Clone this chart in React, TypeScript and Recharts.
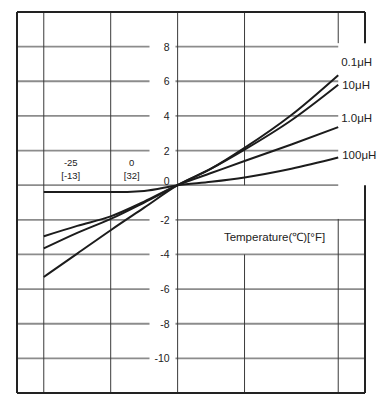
import React from 'react';
import { LineChart, Line, XAxis, YAxis, ReferenceLine, ReferenceArea, ReferenceDot } from 'recharts';

// temperature in °C
const temps = [-25, -12.5, 0, 12.5, 25, 37.5, 50, 67.5, 85];
// inductance change (%) per inductance value
const l01 = [-5.3, -3.95, -2.6, -1.3, 0, 0.95, 2.15, 4.05, 6.35];
const l10 = [-3.65, -2.75, -1.95, -1.0, 0, 0.95, 2.05, 3.75, 5.8];
const l1 = [-2.95, -2.35, -1.8, -0.95, 0, 0.7, 1.4, 2.35, 3.35];
const l100 = [-0.4, -0.4, -0.4, -0.33, 0, 0.2, 0.45, 0.95, 1.6];
const seriesNames = ['0.1μH', '10μH', '1.0μH', '100μH'];

const xTicks = [-25, 0, 25, 50, 85];
const xLabelTemps = [-25, 0];
const xLabelC = ['-25', '0'];
const xLabelF = ['[-13]', '[32]'];
const yTicks = [-10, -8, -6, -4, -2, 0, 2, 4, 6, 8];

const data = temps.map((t, i) => ({ t, a: l01[i], b: l10[i], c: l1[i], d: l100[i] }));

const X_MIN = -35, X_MAX = 95, Y_MIN = -12, Y_MAX = 10;
const FONT = '"Liberation Sans", Arial, sans-serif';
const INK = '#1c1c1c';
const TXT = '#222';

type Seg = [{ x: number; y: number }, { x: number; y: number }];

// horizontal grid: broken where the y labels sit, shorter on the upper right
const hSegs: Seg[] = [];
yTicks.forEach((v) => {
    const end = v >= 0 ? 85 : X_MAX;
    if (v === 0) {
        hSegs.push([{ x: X_MIN, y: v }, { x: end, y: v }]);
    } else {
        hSegs.push([{ x: X_MIN, y: v }, { x: 14.5, y: v }]);
        hSegs.push([{ x: 24.2, y: v }, { x: end, y: v }]);
    }
});

// vertical grid: gaps around the title box and the curve labels
const vSegs: Seg[] = [];
xTicks.forEach((t) => {
    if (t === 50) {
        vSegs.push([{ x: t, y: Y_MAX }, { x: t, y: 0 }]);
        vSegs.push([{ x: t, y: -4 }, { x: t, y: Y_MIN }]);
    } else if (t === 85) {
        vSegs.push([{ x: t, y: Y_MAX }, { x: t, y: 8.2 }]);
        vSegs.push([{ x: t, y: -1.95 }, { x: t, y: Y_MIN }]);
    } else {
        vSegs.push([{ x: t, y: Y_MAX }, { x: t, y: Y_MIN }]);
    }
});

const frameSegs: Seg[] = [
    [{ x: X_MIN, y: Y_MAX }, { x: X_MAX, y: Y_MAX }],
    [{ x: X_MIN, y: Y_MIN }, { x: X_MAX, y: Y_MIN }],
    [{ x: X_MIN, y: Y_MAX }, { x: X_MIN, y: Y_MIN }],
    [{ x: X_MAX, y: Y_MAX }, { x: X_MAX, y: 8.2 }],
    [{ x: X_MAX, y: 0 }, { x: X_MAX, y: Y_MIN }],
];

// label at the right end of each curve
const endLabel = (name: string, dx: number, dy: number) => (props: any) => {
    if (props.index !== temps.length - 1) return null;
    return (
        <text key={name} x={props.x + dx} y={props.y + dy} dominantBaseline="central"
            fontSize={11.5} fontFamily={FONT} fill={TXT}>{name}</text>
    );
};

const labelOffsets = [[3, -13], [4, 0], [3, -9], [4, -2]];
const xLabelDx = [27, 21];
const keys = ['a', 'b', 'c', 'd'];

export default function App() {
    return (
        <div style={{ position: 'absolute', left: 0, top: 0, width: 379, height: 396, background: '#fff' }}>
            <LineChart width={379} height={396} data={data}
                margin={{ top: 12, right: 14, bottom: 3, left: 17 }}>
                <XAxis type="number" dataKey="t" domain={[X_MIN, X_MAX]} hide allowDataOverflow />
                <YAxis type="number" domain={[Y_MIN, Y_MAX]} hide allowDataOverflow />
                {hSegs.map((s, i) => (
                    <ReferenceLine key={'h' + i} segment={s} stroke="#8c8c8c" strokeWidth={1.8} ifOverflow="visible" />
                ))}
                {vSegs.map((s, i) => (
                    <ReferenceLine key={'v' + i} segment={s} stroke="#3a3a3a" strokeWidth={1} ifOverflow="visible" />
                ))}
                {frameSegs.map((s, i) => (
                    <ReferenceLine key={'f' + i} segment={s} stroke="#222" strokeWidth={2} ifOverflow="visible" />
                ))}
                {yTicks.map((v) => (
                    <ReferenceDot key={'y' + v} x={25} y={v} r={0} ifOverflow="visible"
                        shape={(p: any) => (
                            <text x={p.cx - 8} y={v === 0 ? p.cy - 4 : p.cy} textAnchor="end"
                                dominantBaseline="central" fontSize={10.5} fontFamily={FONT} fill={TXT}>{v}</text>
                        )} />
                ))}
                {xLabelTemps.map((t, i) => (
                    <ReferenceDot key={'x' + t} x={t} y={0} r={0} ifOverflow="visible"
                        shape={(p: any) => (
                            <g fontSize={9.5} fontFamily={FONT} fill={TXT} textAnchor="middle">
                                <text x={p.cx + xLabelDx[i]} y={p.cy - 23} dominantBaseline="central">{xLabelC[i]}</text>
                                <text x={p.cx + xLabelDx[i]} y={p.cy - 10} dominantBaseline="central">{xLabelF[i]}</text>
                            </g>
                        )} />
                ))}
                <ReferenceArea x1={37.8} x2={84.6} y1={-3.85} y2={-2.15} fillOpacity={0} stroke="none"
                    label={{ value: 'Temperature(℃)[°F]', position: 'center', fontSize: 11.5, fontFamily: FONT, fill: TXT }} />
                {keys.map((k, i) => (
                    <Line key={k} dataKey={k} name={seriesNames[i]} type="monotone" stroke={INK}
                        strokeWidth={2} dot={false} isAnimationActive={false}
                        label={endLabel(seriesNames[i], labelOffsets[i][0], labelOffsets[i][1])} />
                ))}
            </LineChart>
        </div>
    );
}
